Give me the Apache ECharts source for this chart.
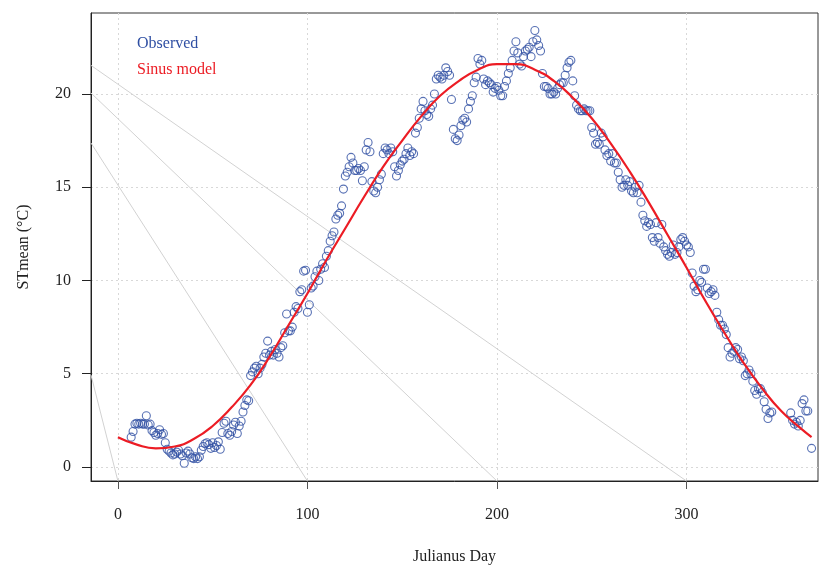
<!DOCTYPE html>
<html>
<head>
<meta charset="utf-8">
<script src="https://cdn.jsdelivr.net/npm/echarts@6/dist/echarts.min.js"></script>
<style>
  html, body { margin: 0; padding: 0; background: #fff; }
  #chart { width: 830px; height: 565px; }
</style>
</head>
<body>
<div id="chart"></div>
<script>
// axis range (R style, a bit wider than the data)
var xRange = [-14.2, 369.4];
var yRange = [-0.75, 24.34];
var xTicks = [0, 100, 200, 300];
var yTicks = [0, 5, 10, 15, 20];

// observed daily mean temperature [day, STmean]
var observed = [
  [7,1.6],[8,1.9],[9,2.3],[10,2.35],[11,2.3],[12,2.35],[13,2.3],[14,2.3],[15,2.75],[16,2.25],
  [17,2.3],[18,1.95],[19,1.85],[20,1.7],[21,1.8],[22,2.0],[23,1.75],[24,1.8],[25,1.3],[26,0.95],
  [27,0.85],[28,0.75],[29,0.65],[30,0.7],[31,0.8],[32,0.9],[33,0.7],[34,0.6],[35,0.2],[36,0.75],
  [37,0.85],[38,0.7],[39,0.5],[40,0.45],[41,0.55],[42,0.45],[43,0.55],[44,0.9],[45,1.1],[46,1.25],
  [47,1.3],[48,1.2],[49,1.0],[50,1.3],[51,1.05],[52,1.15],[53,1.35],[54,0.95],[55,1.85],[56,2.35],
  [57,2.45],[58,1.8],[59,1.7],[60,1.9],[61,2.25],[62,2.4],[63,1.8],[64,2.2],[65,2.45],[66,2.95],
  [67,3.3],[68,3.6],[69,3.55],[70,4.9],[71,5.1],[72,5.3],[73,5.4],[74,5.0],[75,5.3],[76,5.5],
  [77,5.9],[78,6.1],[79,6.75],[80,6.0],[81,6.2],[82,6.0],[83,6.3],[84,6.1],[85,5.9],[86,6.4],
  [87,6.5],[88,7.2],[89,8.2],[90,7.3],[91,7.3],[92,7.5],[93,8.3],[94,8.6],[95,8.5],[96,9.4],
  [97,9.5],[98,10.5],[99,10.55],[100,8.3],[101,8.7],[102,9.6],[103,9.7],[104,10.2],[105,10.5],[106,10.0],
  [107,10.6],[108,10.9],[109,10.7],[110,11.3],[111,11.6],[112,12.1],[113,12.4],[114,12.6],[115,13.3],[116,13.5],
  [117,13.6],[118,14.0],[119,14.9],[120,15.6],[121,15.8],[122,16.1],[123,16.6],[124,16.3],[125,15.9],[126,15.9],
  [127,16.0],[128,15.9],[129,15.35],[130,16.1],[131,17.0],[132,17.4],[133,16.9],[134,15.3],[135,14.8],[136,14.7],
  [137,15.0],[138,15.4],[139,15.7],[140,16.8],[141,17.1],[142,17.0],[143,16.8],[144,17.1],[145,16.9],[146,16.1],
  [147,15.6],[148,15.9],[149,16.2],[150,16.4],[151,16.5],[152,16.8],[153,17.1],[154,16.7],[155,16.9],[156,16.8],
  [157,17.9],[158,18.2],[159,18.7],[160,19.2],[161,19.6],[162,19.1],[163,18.9],[164,18.8],[165,19.2],[166,19.4],
  [167,20.0],[168,20.8],[169,21.0],[170,20.9],[171,20.8],[172,21.0],[173,21.4],[174,21.2],[175,21.0],[176,19.7],
  [177,18.1],[178,17.6],[179,17.5],[180,17.8],[181,18.3],[182,18.6],[183,18.7],[184,18.5],[185,19.2],[186,19.6],
  [187,19.9],[188,20.6],[189,20.9],[190,21.9],[191,21.6],[192,21.8],[193,20.8],[194,20.5],[195,20.7],[196,20.6],
  [197,20.5],[198,20.1],[199,20.3],[200,20.4],[201,20.2],[202,19.9],[203,19.9],[204,20.4],[205,20.7],[206,21.1],
  [207,21.4],[208,21.8],[209,22.3],[210,22.8],[211,22.2],[212,21.6],[213,21.5],[214,22.0],[215,22.3],[216,22.4],
  [217,22.5],[218,22.0],[219,22.8],[220,23.4],[221,22.9],[222,22.6],[223,22.3],[224,21.1],[225,20.4],[226,20.4],
  [227,20.3],[228,20.0],[229,20.0],[230,20.1],[231,20.0],[232,20.3],[233,20.5],[234,20.6],[235,20.6],[236,21.0],
  [237,21.4],[238,21.7],[239,21.8],[240,20.7],[241,19.9],[242,19.4],[243,19.2],[244,19.1],[245,19.1],[246,19.2],
  [247,19.1],[248,19.1],[249,19.1],[250,18.2],[251,17.9],[252,17.3],[253,17.4],[254,17.3],[255,17.9],[256,17.7],
  [257,17.0],[258,16.7],[259,16.8],[260,16.4],[261,16.8],[262,16.3],[263,16.3],[264,15.8],[265,15.4],[266,15.0],
  [267,15.1],[268,15.4],[269,15.1],[270,15.3],[271,14.8],[272,14.7],[273,15.0],[274,14.7],[275,15.1],[276,14.2],
  [277,13.5],[278,13.2],[279,12.9],[280,13.1],[281,13.0],[282,12.3],[283,12.1],[284,13.1],[285,12.3],[286,12.0],
  [287,13.0],[288,11.8],[289,11.6],[290,11.4],[291,11.3],[292,11.5],[293,11.9],[294,11.4],[295,11.5],[296,11.8],
  [297,12.2],[298,12.3],[299,12.1],[300,11.9],[301,11.8],[302,11.5],[303,10.4],[304,9.7],[305,9.4],[306,9.5],
  [307,10.0],[308,9.9],[309,10.6],[310,10.6],[311,9.6],[312,9.3],[313,9.4],[314,9.5],[315,9.2],[316,8.3],
  [317,7.9],[318,7.6],[319,7.6],[320,7.4],[321,7.1],[322,6.4],[323,5.9],[324,6.1],[325,6.2],[326,6.4],
  [327,6.3],[328,5.8],[329,5.9],[330,5.7],[331,4.9],[332,5.0],[333,5.2],[334,5.0],[335,4.6],[336,4.1],
  [337,3.9],[338,4.2],[339,4.2],[340,4.0],[341,3.5],[342,3.1],[343,2.6],[344,2.9],[345,2.95],
  [355,2.9],[356,2.5],[357,2.3],[358,2.4],[359,2.2],[360,2.5],[361,3.4],[362,3.6],[363,3.0],[364,3.0],
  [366,1.0]
];

// fitted sinus model
var modelDays = [0,10,20,30,40,50,60,70,80,90,100,110,120,130,140,150,160,170,180,190,
  200,210,220,230,240,250,260,270,280,290,300,310,320,330,340,350,360,366];
var modelTemp = [1.6,1.2,1.0,1.1,1.5,2.2,3.2,4.4,5.9,7.6,9.3,11.1,12.8,14.5,16.1,17.5,18.8,19.9,20.7,21.3,
  21.6,21.6,21.3,20.7,19.8,18.7,17.35,15.85,14.2,12.45,10.7,8.9,7.2,5.6,4.2,3.0,2.1,1.6];

// light grey diagonal guide lines: value at the left edge, day where they meet the bottom
var guideLeftY = [21.53, 20.05, 17.37, 4.93];
var guideEndX = [300, 200, 100, 0];

var blue = '#2f4fa3';
var red = '#ec1c24';
var font = '"Liberation Serif", "Times New Roman", serif';

var chart = echarts.init(document.getElementById('chart'));

var series = [];
guideEndX.forEach(function (ex, i) {
  series.push({
    type: 'line',
    silent: true,
    symbol: 'none',
    z: 1,
    lineStyle: { color: '#d2d2d2', width: 1 },
    data: [[xRange[0], guideLeftY[i]], [ex, yRange[0]]]
  });
});
series.push({
  name: 'Observed',
  type: 'scatter',
  symbol: 'circle',
  symbolSize: 8,
  z: 3,
  itemStyle: { color: 'rgba(0,0,0,0)', borderColor: blue, borderWidth: 1.1 },
  data: observed
});
series.push({
  name: 'Sinus model',
  type: 'line',
  smooth: true,
  symbol: 'none',
  z: 4,
  lineStyle: { color: red, width: 2.2 },
  itemStyle: { color: red },
  data: modelDays.map(function (d, i) { return [d, modelTemp[i]]; })
});

chart.setOption({
  animation: false,
  backgroundColor: '#fff',
  textStyle: { fontFamily: font },
  grid: {
    left: 91, right: 12, top: 13, bottom: 84,
    outerBoundsMode: 'none',
    show: true, borderColor: '#333', borderWidth: 1
  },
  legend: {
    left: 127, top: 31, orient: 'vertical',
    itemWidth: 0, itemHeight: 0, itemGap: 10,
    selectedMode: false,
    textStyle: { fontFamily: font, fontSize: 16 },
    data: [
      { name: 'Observed', icon: 'none', textStyle: { color: blue } },
      { name: 'Sinus model', icon: 'none', textStyle: { color: red } }
    ]
  },
  xAxis: {
    type: 'value',
    min: xRange[0], max: xRange[1],
    name: 'Julianus Day', nameLocation: 'middle', nameGap: 68,
    nameTextStyle: { fontFamily: font, fontSize: 16, color: '#222' },
    axisLine: { show: true, onZero: false, lineStyle: { color: '#222', width: 1 } },
    axisTick: { show: true, length: 8, customValues: xTicks, lineStyle: { color: '#555' } },
    axisLabel: { customValues: xTicks, margin: 26, fontFamily: font, fontSize: 16, color: '#222' },
    splitLine: { show: true, lineStyle: { color: '#d8d8d8', type: [2, 3], width: 1 } }
  },
  yAxis: {
    type: 'value',
    min: yRange[0], max: yRange[1],
    name: 'STmean (°C)', nameLocation: 'middle', nameGap: 59, nameRotate: 90,
    nameTextStyle: { fontFamily: font, fontSize: 16, color: '#222' },
    axisLine: { show: true, onZero: false, lineStyle: { color: '#222', width: 1 } },
    axisTick: { show: true, length: 9, customValues: yTicks, lineStyle: { color: '#222' } },
    axisLabel: { customValues: yTicks, margin: 20, fontFamily: font, fontSize: 16, color: '#222' },
    splitLine: { show: true, lineStyle: { color: '#d8d8d8', type: [2, 3], width: 1 } }
  },
  series: series
});
</script>
</body>
</html>
